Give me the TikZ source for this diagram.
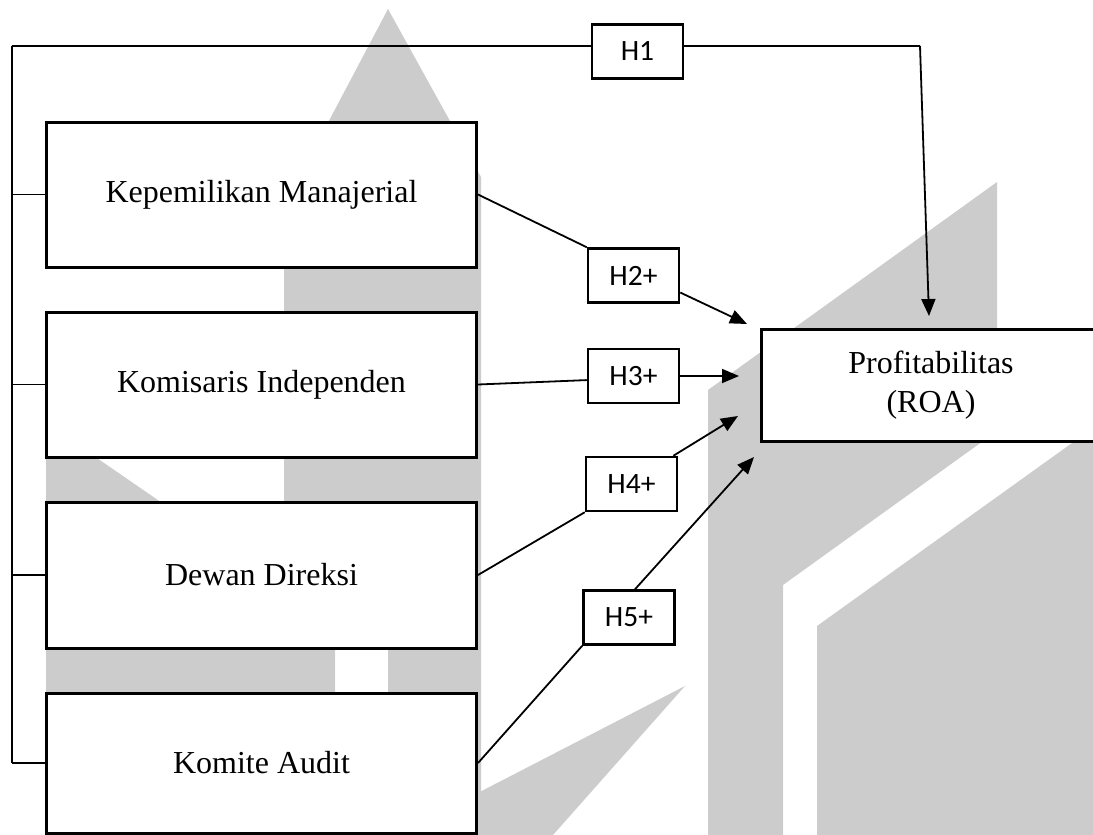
\documentclass[tikz,border=0pt]{standalone}
\usepackage{fontspec}
\setmainfont{Liberation Serif}
\newfontfamily\hfont{Carlito}
\usetikzlibrary{arrows.meta}
\definecolor{wm}{RGB}{204,204,204}
\begin{document}
\begin{tikzpicture}[x=1pt,y=-1pt,
  mainbox/.style={draw, line width=3pt, fill=white, minimum width=430pt, minimum height=145pt, inner sep=0pt, align=center, font=\fontsize{32}{39}\selectfont},
  hbox/.style={draw, line width=2.5pt, fill=white, minimum width=91pt, minimum height=54pt, inner sep=0pt, font=\hfont\fontsize{29.5}{35}\selectfont},
  conn/.style={line width=1.8pt},
  arr/.style={conn, -{Triangle[length=17pt,width=14pt]}},
  thinline/.style={line width=1.4pt},
  wmfill/.style={fill=wm, draw=none}]
\useasboundingbox (0,0) rectangle (1093,835);
\clip (0,0) rectangle (1093,835);
% watermark
\fill[wmfill] (388,9) -- (481,177) -- (481,835) -- (388,835) -- cycle;
\fill[wmfill] (388,9) -- (284,206) -- (284,560) -- (388,560) -- cycle;
\fill[wmfill] (46,423) -- (335,622) -- (335,700) -- (46,700) -- cycle;
\fill[wmfill] (685,686) -- (470,797) -- (470,835) -- (553,835) -- cycle;
\fill[wmfill] (708,390) -- (997,182) -- (997,431) -- (783,585) -- (783,835) -- (708,835) -- cycle;
\fill[wmfill] (817,626) -- (1093,428) -- (1093,835) -- (817,835) -- cycle;
% boxes
\node[mainbox] (b1) at (261.5,194.5) {Kepemilikan Manajerial};
\node[mainbox] (b2) at (261.5,384.5) {Komisaris Independen};
\node[mainbox, minimum height=146pt] (b3) at (261.5,575) {Dewan Direksi};
\node[mainbox, minimum height=140pt] (b4) at (261.5,763) {Komite Audit};
\node[mainbox, minimum width=340pt, minimum height=112pt] (roa) at (931,385) {Profitabilitas\\(ROA)};
\node[hbox] (h1) at (637.5,51.5) {H1};
\node[hbox] (h2) at (633.5,275.5) {H2+};
\node[hbox] (h3) at (633.5,376) {H3+};
\node[hbox] (h4) at (631.5,484) {H4+};
\node[hbox] (h5) at (629,617.5) {H5+};
% free ends
\coordinate (tl) at (12,46);
\coordinate (bl) at (12,763);
\coordinate (tr) at (920,46);
\coordinate (a1) at (929,316);
\coordinate (a2) at (747,324);
\coordinate (a3) at (739,376);
\coordinate (a4) at (738,416);
\coordinate (a5) at (754,457);
% left bracket
\draw[thinline] (tl) -- (bl);
\draw[thinline] (b1.west -| tl) -- (b1.west);
\draw[thinline] (b2.west -| tl) -- (b2.west);
\draw[thinline] (b3.west -| tl) -- (b3.west);
\draw[thinline] (bl) -- (b4.west);
% H1 path
\draw[conn] (tl) -- (h1.west |- tl);
\draw[conn] (h1.east |- tl) -- (tr);
\draw[arr] (tr) -- (a1);
% H2-H5
\draw[conn] (b1.east) -- (h2.north west);
\draw[arr] (h2.-20) -- (a2);
\draw[conn] (b2.east) -- (h3.185);
\draw[arr] (h3.east) -- (a3);
\draw[conn] (b3.east) -- (h4.south west);
\draw[arr] (h4.34) -- (a4);
\draw[conn] (b4.east) -- (h5.south west);
\draw[arr] (h5.78) -- (a5);
\end{tikzpicture}
\end{document}
